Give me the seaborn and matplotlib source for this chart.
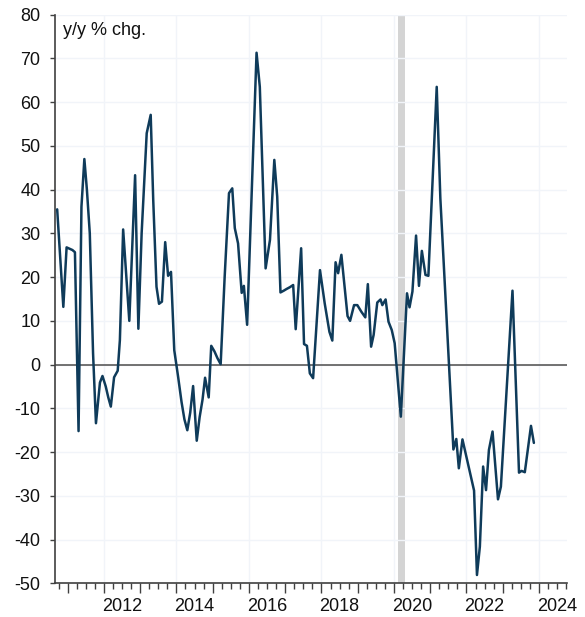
import matplotlib
matplotlib.use("Agg")
import matplotlib.pyplot as plt
import matplotlib.transforms as mtransforms
import numpy as np
import pandas as pd
import seaborn as sns

# ---- data (decimal year, y/y % change) ----
years = [
    2010.71, 2010.88, 2010.97, 2011.05, 2011.13, 2011.20, 2011.30, 2011.38, 2011.46, 2011.53,
    2011.61, 2011.70, 2011.78, 2011.89, 2011.96, 2012.05, 2012.12, 2012.19, 2012.28, 2012.38,
    2012.44, 2012.53, 2012.70, 2012.86, 2012.95, 2013.04, 2013.18, 2013.29, 2013.36, 2013.45,
    2013.52, 2013.60, 2013.69, 2013.77, 2013.85, 2013.94, 2014.05, 2014.14, 2014.22, 2014.30,
    2014.38, 2014.46, 2014.56, 2014.64, 2014.72, 2014.79, 2014.89, 2014.96, 2015.05, 2015.13,
    2015.22, 2015.33, 2015.45, 2015.54, 2015.61, 2015.70, 2015.80, 2015.86, 2015.95, 2016.21,
    2016.30, 2016.46, 2016.58, 2016.70, 2016.78, 2016.87, 2016.96, 2017.04, 2017.13, 2017.22,
    2017.29, 2017.44, 2017.52, 2017.60, 2017.68, 2017.77, 2017.96, 2018.09, 2018.22, 2018.30,
    2018.39, 2018.46, 2018.55, 2018.72, 2018.79, 2018.90, 2018.99, 2019.10, 2019.21, 2019.28,
    2019.37, 2019.44, 2019.54, 2019.63, 2019.68, 2019.77, 2019.85, 2019.94, 2020.02, 2020.19,
    2020.36, 2020.43, 2020.51, 2020.61, 2020.69, 2020.77, 2020.87, 2020.95, 2021.18, 2021.28,
    2021.64, 2021.72, 2021.79, 2021.89, 2022.21, 2022.29, 2022.37, 2022.46, 2022.54, 2022.62,
    2022.72, 2022.87, 2022.95, 2023.27, 2023.45, 2023.52, 2023.61, 2023.78, 2023.86,
]
values = [
    35.5, 13.2, 26.8, 26.5, 26.2, 25.7, -15.2, 36.1, 47.0, 40.0,
    30.0, 2.6, -13.4, -4.1, -2.6, -5.0, -7.5, -9.6, -2.9, -1.4,
    5.6, 30.9, 10.0, 43.3, 8.2, 30.0, 52.9, 57.1, 37.6, 17.8,
    13.9, 14.4, 28.0, 20.3, 21.2, 3.3, -3.0, -8.5, -12.5, -15.0,
    -11.0, -4.9, -17.4, -12.0, -8.0, -3.0, -7.5, 4.3, 3.0, 1.5,
    0.1, 20.0, 39.2, 40.3, 31.2, 27.7, 16.4, 18.0, 9.1, 71.3,
    63.5, 22.0, 28.5, 46.8, 38.4, 16.5, 16.9, 17.3, 17.7, 18.2,
    8.1, 26.6, 4.7, 4.3, -2.0, -3.1, 21.6, 14.0, 7.5, 5.5,
    23.4, 20.9, 25.1, 11.1, 10.0, 13.6, 13.6, 12.1, 10.8, 18.4,
    4.1, 6.8, 14.2, 14.9, 13.6, 14.9, 9.8, 7.9, 4.9, -11.9,
    16.3, 13.1, 16.7, 29.5, 18.0, 26.0, 20.5, 20.3, 63.5, 38.0,
    -19.4, -17.0, -23.7, -17.1, -28.8, -48.1, -41.6, -23.3, -28.7, -19.5,
    -15.3, -30.8, -27.9, 16.9, -24.7, -24.3, -24.6, -14.0, -17.9,
]
recession = [2020.11, 2020.31]
y_ticks = list(range(-50, 90, 10))
x_label_years = [2012, 2014, 2016, 2018, 2020, 2022, 2024]
y_title = "y/y % chg."

df = pd.DataFrame({"year": years, "value": values})

sns.set_style("white")
plt.rcParams["font.family"] = ["Liberation Sans", "DejaVu Sans"]

fig = plt.figure(figsize=(5.85, 6.17), dpi=100)
ax = fig.add_axes([0.094, 0.0546, 0.875, 0.9216])

ax.axvspan(recession[0], recession[1], color="#d4d4d4", lw=0, zorder=1)
ax.axhline(0, color="#5a5a5a", lw=1.2, zorder=1.8)

sns.lineplot(data=df, x="year", y="value", sort=False, estimator=None,
             color="#0f3b5a", lw=1.8, ax=ax, zorder=3)

ax.set_xlim(2010.65, 2024.77)
ax.set_ylim(-50, 80)

ax.set_yticks(y_ticks)
ax.set_yticklabels([str(v) for v in y_ticks])
ax.set_xticks(np.arange(2011, 2025, 1))
ax.set_xticklabels([])
ax.set_xticks(np.arange(2010.75, 2024.8, 0.25), minor=True)

ax.tick_params(axis="y", which="major", left=True, direction="out", length=3.5, width=1,
               color="#404040", labelsize=13, pad=7, labelcolor="#111111")
ax.tick_params(axis="x", which="major", bottom=True, direction="out", length=7, width=1,
               color="#404040")
ax.tick_params(axis="x", which="minor", bottom=True, direction="out", length=4, width=1,
               color="#404040")

# faint grid
for v in y_ticks:
    ax.axhline(v, color="#f1f4f9", lw=1.0, zorder=1.5)
for yr in x_label_years:
    ax.axvline(yr, color="#f1f4f9", lw=1.0, zorder=1.5)

for s in ["top", "right"]:
    ax.spines[s].set_visible(False)
for s in ["left", "bottom"]:
    ax.spines[s].set_color("#404040")
    ax.spines[s].set_linewidth(1.2)

trans = mtransforms.blended_transform_factory(ax.transData, ax.transAxes)
for yr in x_label_years:
    ax.text(yr + 0.5, -0.026, str(yr), transform=trans, ha="center", va="top",
            fontsize=13, color="#111111")

ax.text(0.015, 0.987, y_title, transform=ax.transAxes, ha="left", va="top",
        fontsize=13, color="#111111")

ax.set_xlabel("")
ax.set_ylabel("")

fig.savefig("out.png", dpi=100)
